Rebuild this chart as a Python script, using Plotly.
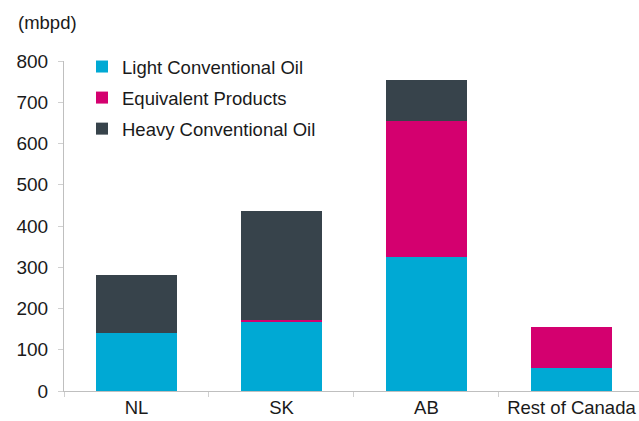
import plotly.graph_objects as go

categories = ["NL", "SK", "AB", "Rest of Canada"]
light_oil = [141, 169, 324, 56]
equivalent = [0, 2, 331, 99]
heavy_oil = [141, 266, 99, 0]

series_names = ["Light Conventional Oil", "Equivalent Products", "Heavy Conventional Oil"]
colors = ["#00A9D4", "#D4006F", "#37434B"]
y_ticks = [0, 100, 200, 300, 400, 500, 600, 700, 800]

FONT = "Liberation Sans, Arial, sans-serif"

fig = go.Figure()
for i, (name, vals, col) in enumerate(zip(series_names, [light_oil, equivalent, heavy_oil], colors)):
    fig.add_trace(go.Bar(
        x=categories, y=vals, name=name, marker_color=col,
        marker_line_width=0, width=0.56, legendgroup=f"g{i}",
    ))

fig.update_layout(
    barmode="stack",
    width=639, height=421,
    margin=dict(l=64, r=0, t=61, b=30),
    plot_bgcolor="white", paper_bgcolor="white",
    font=dict(family=FONT, size=18.5, color="#1a1a1a"),
    showlegend=True,
    legend=dict(
        x=(82 - 64) / 575, y=1.0 - (48 - 61) / 330, xanchor="left", yanchor="top",
        traceorder="grouped", font=dict(size=18.5, family=FONT, color="#1a1a1a"),
        bgcolor="rgba(0,0,0,0)", tracegroupgap=4, itemwidth=30,
    ),
    annotations=[dict(
        text="(mbpd)", xref="paper", yref="paper",
        x=(16 - 64) / 575, y=(391 - 23) / 330, xanchor="left", yanchor="middle",
        showarrow=False, font=dict(size=18.5, family=FONT, color="#1a1a1a"),
    )],
)
fig.update_xaxes(
    type="category", range=[-0.5, 3.466],
    showline=True, linecolor="#bfbfbf", linewidth=1,
    ticks="outside", tickson="boundaries", ticklen=5, tickcolor="#d0d0d0",
    showgrid=False, tickfont=dict(size=18.5),
)
fig.update_yaxes(
    range=[0, 800], tickvals=y_ticks,
    showline=True, linecolor="#bfbfbf", linewidth=1,
    ticks="outside", ticklen=5, tickcolor="#d0d0d0",
    showgrid=False, zeroline=False, tickfont=dict(size=19),
    ticklabelstandoff=6,
)

fig.write_html("out.html")
